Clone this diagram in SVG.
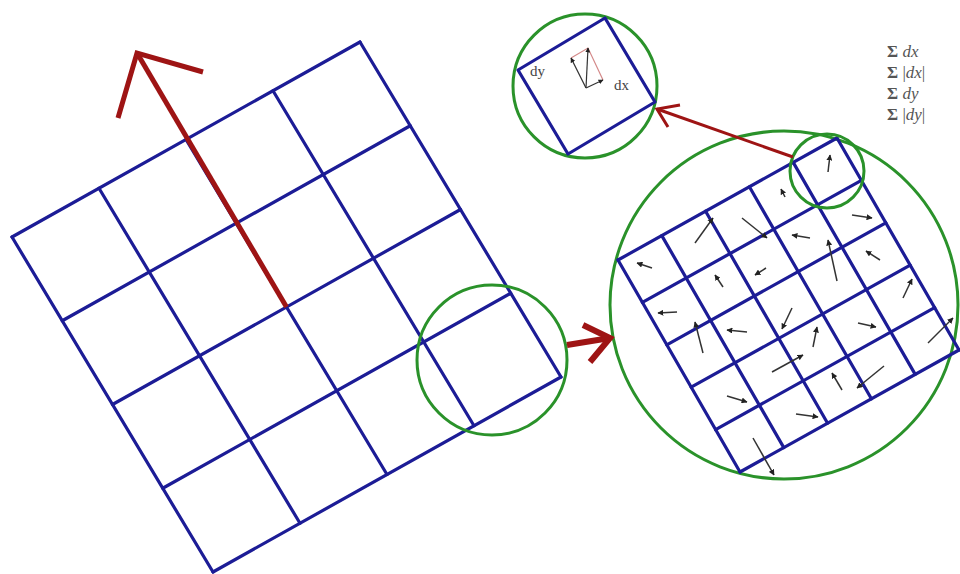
<svg xmlns="http://www.w3.org/2000/svg" width="960" height="574" viewBox="0 0 960 574">
<style>
.grid{stroke:#1c1c96;stroke-width:3.2;fill:none;stroke-linecap:round}
.ring{stroke:#2a922a;stroke-width:3;fill:none}
.red{stroke:#9e1414;fill:none;stroke-linejoin:miter;stroke-linecap:butt}
.vec{stroke:#333;stroke-width:1.5;fill:none;marker-end:url(#ah)}
.lbl{font-family:"Liberation Serif",serif;fill:#444}
.sum{font-family:"Liberation Serif",serif;font-size:17px;fill:#555}
</style>
<defs>
<marker id="ah" viewBox="0 0 10 10" refX="9" refY="5" markerWidth="6" markerHeight="6" markerUnits="userSpaceOnUse" orient="auto">
<path d="M0,0 L10,5 L0,10 z" fill="#222"/>
</marker>
<marker id="ahs" viewBox="0 0 10 10" refX="9" refY="5" markerWidth="5" markerHeight="5" markerUnits="userSpaceOnUse" orient="auto">
<path d="M0,0 L10,5 L0,10 z" fill="#222"/>
</marker>
</defs>
<rect width="960" height="574" fill="#fff"/>

<g id="big-grid">
<path class="grid" d="M12,237 L360,42 M62.25,320.75 L410.25,125.75 M112.5,404.5 L460.5,209.5 M162.75,488.25 L510.75,293.25 M213,572 L561,377"/>
<path class="grid" d="M12,237 L213,572 M99,188.25 L300,523.25 M186,139.5 L387,474.5 M273,90.75 L474,425.75 M360,42 L561,377"/>
</g>

<g id="orientation-arrow">
<path class="red" stroke-width="5" d="M286.5,307 L137,53"/>
<path class="red" stroke-width="5" d="M203,72 L137,53 L118,118"/>
</g>

<g id="big-grid-circle">
<circle class="ring" cx="492" cy="360" r="75"/>
</g>

<g id="zoom-view">
<circle class="ring" cx="784" cy="305" r="174"/>
<path class="grid" d="M618,260 L837,138 M642.4,302.4 L861.4,180.4 M666.8,344.8 L885.8,222.8 M691.2,387.2 L910.2,265.2 M715.6,429.6 L934.6,307.6 M740,472 L959,350"/>
<path class="grid" d="M618,260 L740,472 M661.8,235.6 L783.8,447.6 M705.6,211.2 L827.6,423.2 M749.4,186.8 L871.4,398.8 M793.2,162.4 L915.2,374.4 M837,138 L959,350"/>
<g id="gradients">
<line class="vec" x1="652" y1="268" x2="637" y2="263"/>
<line class="vec" x1="695" y1="243" x2="713" y2="218"/>
<line class="vec" x1="742" y1="218" x2="767" y2="238"/>
<line class="vec" x1="785" y1="197" x2="781" y2="189"/>
<line class="vec" x1="828" y1="172" x2="830" y2="155"/>
<line class="vec" x1="852" y1="215" x2="872" y2="218"/>
<line class="vec" x1="810" y1="238" x2="792" y2="235"/>
<line class="vec" x1="837" y1="281" x2="828" y2="240"/>
<line class="vec" x1="766" y1="268" x2="755" y2="275"/>
<line class="vec" x1="723" y1="287" x2="715" y2="275"/>
<line class="vec" x1="677" y1="312" x2="658" y2="313"/>
<line class="vec" x1="880" y1="260" x2="866" y2="251"/>
<line class="vec" x1="903" y1="298" x2="912" y2="279"/>
<line class="vec" x1="703" y1="353" x2="695" y2="322"/>
<line class="vec" x1="747" y1="332" x2="727" y2="330"/>
<line class="vec" x1="792" y1="308" x2="782" y2="329"/>
<line class="vec" x1="813" y1="347" x2="817" y2="327"/>
<line class="vec" x1="858" y1="323" x2="876" y2="327"/>
<line class="vec" x1="928" y1="343" x2="953" y2="318"/>
<line class="vec" x1="772" y1="372" x2="803" y2="355"/>
<line class="vec" x1="842" y1="390" x2="832" y2="373"/>
<line class="vec" x1="884" y1="366" x2="857" y2="388"/>
<line class="vec" x1="727" y1="396" x2="747" y2="402"/>
<line class="vec" x1="796" y1="414" x2="818" y2="417"/>
<line class="vec" x1="753" y1="438" x2="774" y2="475"/>
</g>
<circle class="ring" cx="827" cy="171" r="37"/>
</g>

<g id="cell-detail">
<circle class="ring" cx="585" cy="86" r="72"/>
<path class="grid" d="M518,70 L605,18 L655,102 L568,154 Z" stroke-linejoin="round"/>
<text class="lbl" x="530" y="76" font-size="15">dy</text>
<text class="lbl" x="614" y="90" font-size="15">dx</text>
<path d="M571,58 L588,48 L603,80" stroke="#d48a8a" stroke-width="1.2" fill="none"/>
<line x1="586" y1="88" x2="571" y2="58" stroke="#333" stroke-width="1.2" marker-end="url(#ahs)"/>
<line x1="586" y1="88" x2="588" y2="48" stroke="#333" stroke-width="1.2" marker-end="url(#ahs)"/>
<line x1="586" y1="88" x2="603" y2="80" stroke="#333" stroke-width="1.2" marker-end="url(#ahs)"/>
</g>

<g id="sums">
<text class="sum" x="887" y="57"><tspan font-weight="bold">Σ</tspan> <tspan font-style="italic">dx</tspan></text>
<text class="sum" x="887" y="78"><tspan font-weight="bold">Σ</tspan> |<tspan font-style="italic">dx</tspan>|</text>
<text class="sum" x="887" y="99"><tspan font-weight="bold">Σ</tspan> <tspan font-style="italic">dy</tspan></text>
<text class="sum" x="887" y="120"><tspan font-weight="bold">Σ</tspan> |<tspan font-style="italic">dy</tspan>|</text>
</g>

<g id="connectors">
<path class="red" stroke-width="6" d="M567,345 L610,338"/>
<path class="red" stroke-width="6" d="M583,325 L610,338 L590,362"/>
<path class="red" stroke-width="3" d="M793,157 L657,109"/>
<path class="red" stroke-width="3" d="M680,105 L657,109 L668,127"/>
</g>
</svg>
